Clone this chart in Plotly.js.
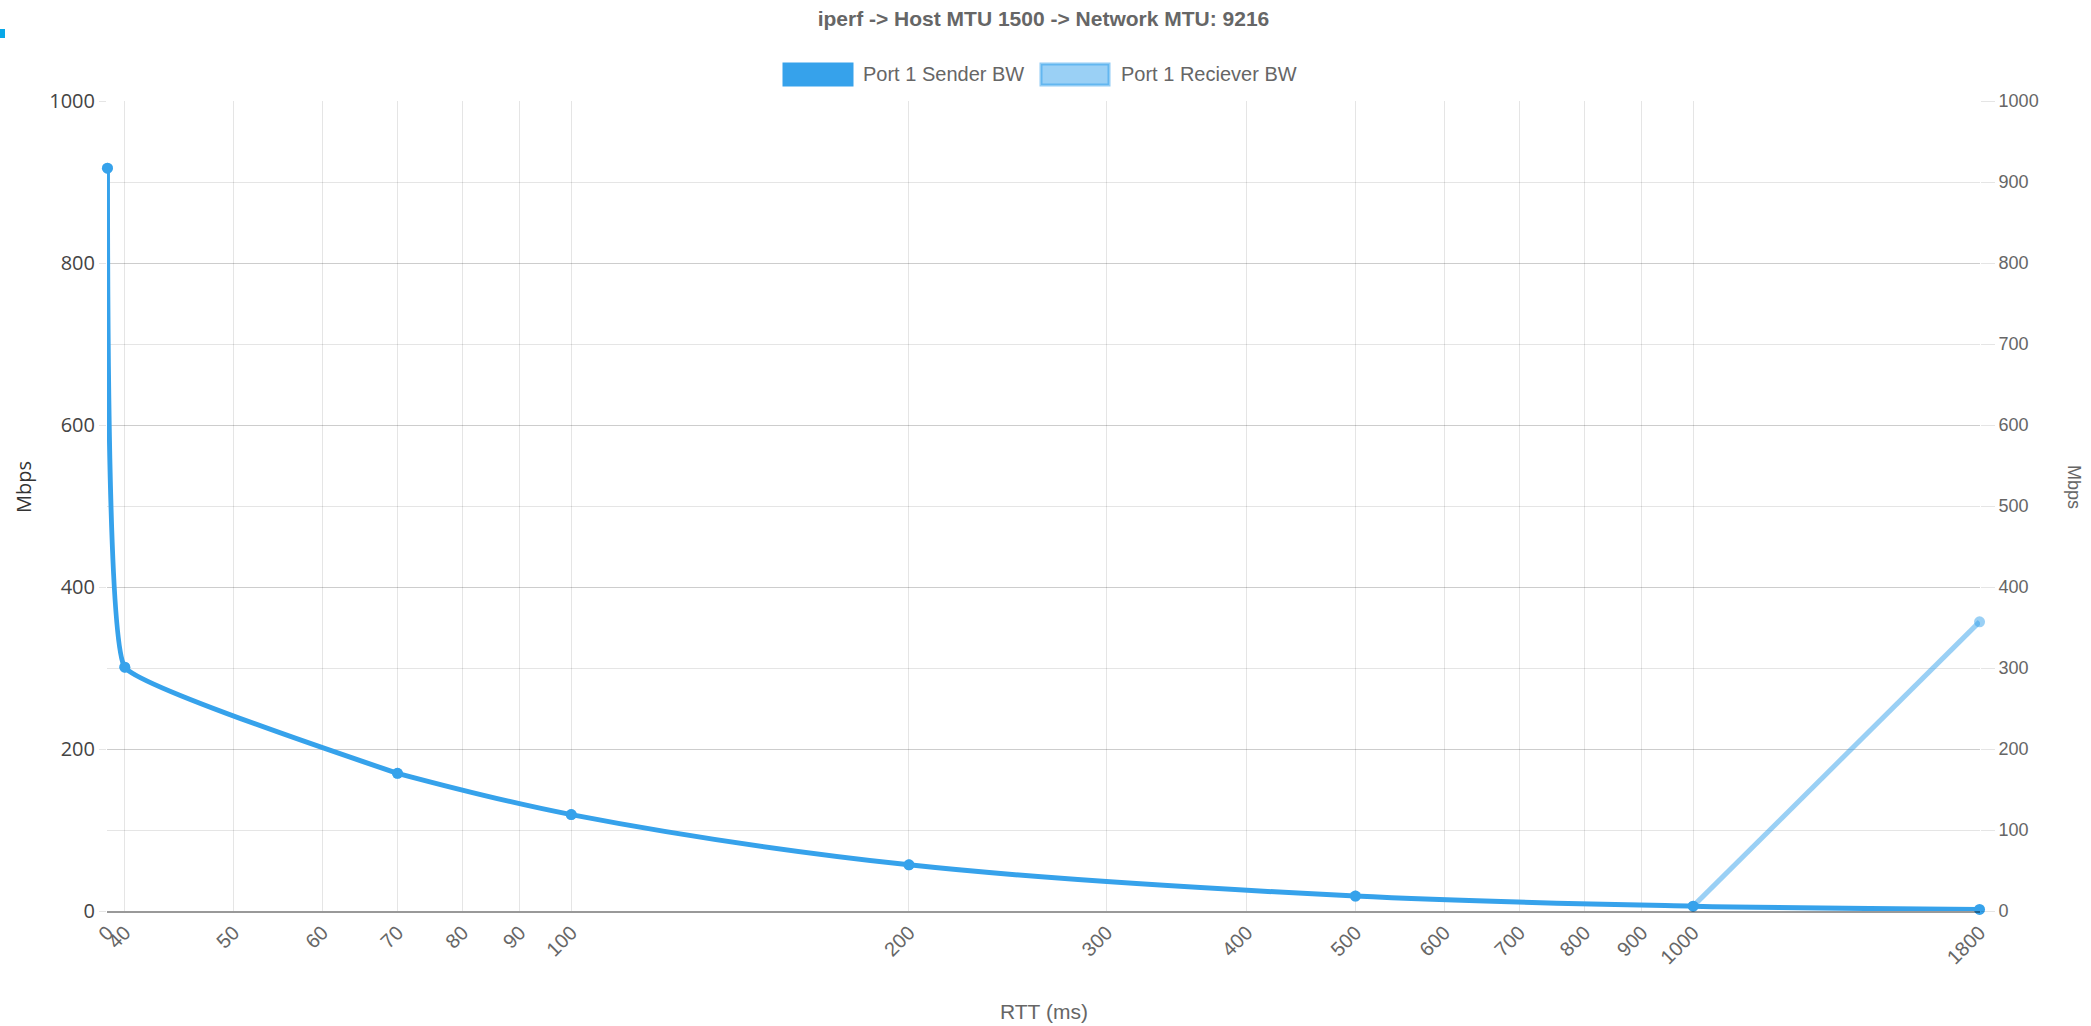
<!DOCTYPE html>
<html><head><meta charset="utf-8">
<script src="https://cdn.plot.ly/plotly-3.0.1.min.js"></script>
<style>html,body{margin:0;padding:0;background:#fff}#chart{width:2091px;height:1026px}</style>
</head><body><div id="chart"></div>
<script>
// RTT (ms); the "0" run is placed at the start of the log axis
const rttValues = [38.6, 40, 70, 100, 200, 500, 1000, 1800];
const senderBW = [917, 301, 170, 119, 57, 18.5, 6, 2];
const receiverBW = [917, 301, 170, 119, 57, 18.5, 6, 357];
const xTickVals = [38.6, 40, 50, 60, 70, 80, 90, 100, 200, 300, 400, 500, 600, 700, 800, 900, 1000, 1800];
const xTickText = ["0", "40", "50", "60", "70", "80", "90", "100", "200", "300", "400", "500", "600", "700", "800", "900", "1000", "1800"];
const seriesNames = ["Port 1 Sender BW", "Port 1 Reciever BW"];
const chartTitle = "iperf -> Host MTU 1500 -> Network MTU: 9216";

const C1 = "rgb(54,162,235)";
const C2 = "rgba(54,162,235,0.5)";
const grid = "rgba(0,0,0,0.1)";
const LW = 5;

// where the receiver series departs from the sender series
let split = receiverBW.findIndex((v, i) => v !== senderBW[i]);
if (split < 1) split = 1;

const traces = [
  // receiver line (only the part that is not hidden under the sender line)
  {x: rttValues.slice(split - 1), y: receiverBW.slice(split - 1), type: "scatter", mode: "lines",
   line: {color: C2, width: LW, shape: "spline", smoothing: 1}, showlegend: false, hoverinfo: "skip"},
  {x: rttValues, y: receiverBW, type: "scatter", mode: "markers", name: seriesNames[1],
   marker: {color: C2, size: 11}, cliponaxis: false, showlegend: false, hoverinfo: "x+y"},
  // sender: steep first drop (gentle smoothing so it stays inside the plot), then a smooth curve
  {x: rttValues.slice(0, 3), y: senderBW.slice(0, 3), type: "scatter", mode: "lines",
   line: {color: C1, width: LW, shape: "spline", smoothing: 0.25}, showlegend: false, hoverinfo: "skip"},
  {x: rttValues.slice(2), y: senderBW.slice(2), type: "scatter", mode: "lines",
   line: {color: C1, width: LW, shape: "spline", smoothing: 1}, showlegend: false, hoverinfo: "skip"},
  {x: rttValues, y: senderBW, type: "scatter", mode: "markers", name: seriesNames[0],
   marker: {color: C1, size: 11}, cliponaxis: false, showlegend: false, hoverinfo: "x+y"},
  {x: [null], y: [null], yaxis: "y2", showlegend: false, hoverinfo: "skip"}
];

const W = 1873, H = 810, L = 107, T = 101;
const px = v => (v - L) / W;
const py = v => (T + H - v) / H;
const SANS = "Liberation Sans, Arial, sans-serif";

const layout = {
  width: 2091, height: 1026,
  margin: {l: 107, r: 111, t: 101, b: 115},
  paper_bgcolor: "#fff", plot_bgcolor: "#fff",
  showlegend: false,
  title: {text: "<b>" + chartTitle.replace(/>/g, "&gt;") + "</b>", x: 0.5, xref: "paper", xanchor: "center",
          y: 1 - 19 / 1026, yanchor: "middle",
          font: {family: SANS, size: 21, color: "#666"}},
  xaxis: {type: "log", range: [Math.log10(38.6) - 0.0004, Math.log10(1800) + 0.0004],
          tickmode: "array", tickvals: xTickVals, ticktext: xTickText, tickangle: -45,
          showgrid: true, gridcolor: grid, gridwidth: 1,
          showline: true, linecolor: "rgba(0,0,0,0.4)", linewidth: 2,
          ticks: "", zeroline: false,
          tickfont: {family: SANS, size: 20, color: "#666"}},
  yaxis: {range: [0, 1000], dtick: 200, tick0: 0, showgrid: true, gridcolor: grid,
          zeroline: false, showline: false, ticks: "outside", ticklen: 7, tickcolor: grid,
          tickfont: {family: "Open Sans, sans-serif", size: 20, color: "#444"}},
  yaxis2: {range: [0, 1000], dtick: 100, tick0: 0, overlaying: "y", side: "right",
           showgrid: true, gridcolor: grid, zeroline: false, showline: false,
           ticks: "outside", ticklen: 14, tickcolor: grid,
           tickfont: {family: SANS, size: 18, color: "#666"}},
  shapes: [
    {type: "rect", xref: "paper", yref: "paper", x0: px(784), x1: px(852), y0: py(64), y1: py(85),
     fillcolor: C1, line: {color: C1, width: 3}},
    {type: "rect", xref: "paper", yref: "paper", x0: px(1041), x1: px(1109), y0: py(64), y1: py(85),
     fillcolor: C2, line: {color: "rgba(54,162,235,0.55)", width: 3}},
    {type: "rect", xref: "paper", yref: "paper", x0: px(0), x1: px(5), y0: py(29), y1: py(38),
     fillcolor: "rgb(8,168,232)", line: {width: 0}}
  ],
  annotations: [
    {text: seriesNames[0], xref: "paper", yref: "paper", x: px(861), y: py(74), xanchor: "left", yanchor: "middle",
     showarrow: false, font: {family: SANS, size: 20, color: "#666"}},
    {text: seriesNames[1], xref: "paper", yref: "paper", x: px(1119), y: py(74), xanchor: "left", yanchor: "middle",
     showarrow: false, font: {family: SANS, size: 20, color: "#666"}},
    {text: "Mbps", xref: "paper", yref: "paper", x: px(23), y: py(487), xanchor: "center", yanchor: "middle",
     textangle: -90, showarrow: false, font: {family: "Open Sans, sans-serif", size: 20, color: "#333"}},
    {text: "Mbps", xref: "paper", yref: "paper", x: px(2074), y: py(487), xanchor: "center", yanchor: "middle",
     textangle: 90, showarrow: false, font: {family: SANS, size: 18, color: "#666"}},
    {text: "RTT (ms)", xref: "paper", yref: "paper", x: px(1044), y: py(1011), xanchor: "center", yanchor: "middle",
     showarrow: false, font: {family: SANS, size: 21, color: "#666"}}
  ]
};

Plotly.newPlot("chart", traces, layout, {displayModeBar: false, responsive: false});
</script>
</body></html>
